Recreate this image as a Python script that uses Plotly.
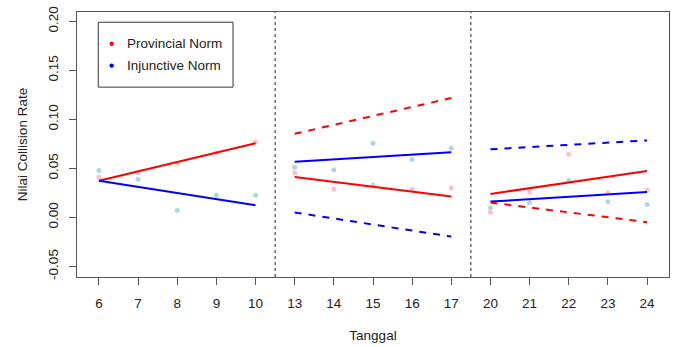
import plotly.graph_objects as go

# ---- data ----
tick_labels = ["6", "7", "8", "9", "10", "13", "14", "15", "16", "17", "20", "21", "22", "23", "24"]
provincial = [0.041, 0.0455, 0.055, 0.066, 0.077, 0.0455, 0.029, 0.033, 0.029, 0.030,
              0.0054, 0.026, 0.0645, 0.025, 0.028]
injunctive = [0.048, 0.039, 0.007, 0.0226, 0.0226, 0.0513, 0.0486, 0.0756, 0.059, 0.0705,
              0.0098, 0.0149, 0.0378, 0.0159, 0.0132]

# panel boundaries (first, last index, 1-based)
panel_start = [1, 6, 11]
panel_end = [5, 10, 15]

# fitted lines per panel (value at first and last day)
prov_fit_start = [0.0374, 0.0412, 0.0240]
prov_fit_end = [0.0756, 0.0213, 0.0473]
inj_fit_start = [0.0374, 0.0567, 0.0162]
inj_fit_end = [0.0125, 0.0665, 0.0260]

# dashed lines (panels 2 and 3)
dash_panels = [1, 2]
prov_dash_start = [0.0853, 0.0152]
prov_dash_end = [0.1218, -0.0048]
inj_dash_start = [0.0051, 0.0695]
inj_dash_end = [-0.0195, 0.0786]

y_ticks = [-0.05, 0.0, 0.05, 0.10, 0.15, 0.20]

RED = "#FF0000"
BLUE = "#0000FF"
PINK = "#FFC0CB"
LBLUE = "#ADD8E6"
FONT = "Liberation Sans, Arial, sans-serif"

x_idx = list(range(1, len(tick_labels) + 1))

fig = go.Figure()
fig.add_trace(go.Scatter(x=x_idx, y=provincial, mode="markers",
                         marker=dict(color=PINK, size=5), showlegend=False))
fig.add_trace(go.Scatter(x=x_idx, y=injunctive, mode="markers",
                         marker=dict(color=LBLUE, size=5), showlegend=False))

for p in range(3):
    xs = [panel_start[p], panel_end[p]]
    fig.add_trace(go.Scatter(x=xs, y=[prov_fit_start[p], prov_fit_end[p]], mode="lines",
                             line=dict(color=RED, width=2), showlegend=False))
    fig.add_trace(go.Scatter(x=xs, y=[inj_fit_start[p], inj_fit_end[p]], mode="lines",
                             line=dict(color=BLUE, width=2), showlegend=False))

for k, p in enumerate(dash_panels):
    xs = [panel_start[p], panel_end[p]]
    fig.add_trace(go.Scatter(x=xs, y=[prov_dash_start[k], prov_dash_end[k]], mode="lines",
                             line=dict(color=RED, width=2, dash="7px,7px"), showlegend=False))
    fig.add_trace(go.Scatter(x=xs, y=[inj_dash_start[k], inj_dash_end[k]], mode="lines",
                             line=dict(color=BLUE, width=2, dash="7px,7px"), showlegend=False))

# separators between panels
for p in range(2):
    xsep = (panel_end[p] + panel_start[p + 1]) / 2
    fig.add_shape(type="line", x0=xsep, x1=xsep, y0=0, y1=1, xref="x", yref="paper",
                  line=dict(color="#222", width=1, dash="3px,3px"))

# legend box (paper coords)
fig.add_shape(type="rect", xref="paper", yref="paper",
              x0=(98.3 - 77) / 593, x1=(233.3 - 77) / 593,
              y0=(279 - 87.7) / 267, y1=(279 - 22.3) / 267,
              line=dict(color="#333", width=1), fillcolor="white")
legend_items = [("Provincial Norm", RED, 44), ("Injunctive Norm", BLUE, 66)]
for name, col, ypx in legend_items:
    yp = (279 - ypx) / 267
    fig.add_shape(type="circle", xref="paper", yref="paper",
                  x0=(111.7 - 2.2 - 77) / 593, x1=(111.7 + 2.2 - 77) / 593,
                  y0=yp - 2.2 / 267, y1=yp + 2.2 / 267,
                  line=dict(width=0), fillcolor=col)
    fig.add_annotation(text=name, xref="paper", yref="paper",
                       x=(125 - 77) / 593, y=yp, xanchor="left", yanchor="middle",
                       showarrow=False, font=dict(family=FONT, size=13.5, color="#222"))

fig.update_layout(
    width=676, height=347,
    margin=dict(l=77, r=6, t=12, b=68),
    plot_bgcolor="white", paper_bgcolor="white",
    font=dict(family=FONT, size=13.5, color="#222"),
)
fig.update_xaxes(
    range=[0.44, 15.56], tickvals=x_idx, ticktext=tick_labels,
    showgrid=False, zeroline=False,
    showline=True, mirror=True, linecolor="#555", linewidth=1,
    ticks="outside", ticklen=7, tickcolor="#555",
    ticklabelstandoff=7,
    title=dict(text="Tanggal", standoff=20, font=dict(size=13.5)),
)
fig.update_yaxes(
    range=[-0.0607, 0.2095], tickvals=y_ticks,
    ticktext=[f"{v:.2f}" for v in y_ticks], tickangle=-90,
    showgrid=False, zeroline=False,
    showline=True, mirror=True, linecolor="#555", linewidth=1,
    ticks="outside", ticklen=7, tickcolor="#555",
    ticklabelstandoff=6,
    title=dict(text="Nilai Collision Rate", standoff=14, font=dict(size=13.5)),
)

fig.write_html("out.html")
